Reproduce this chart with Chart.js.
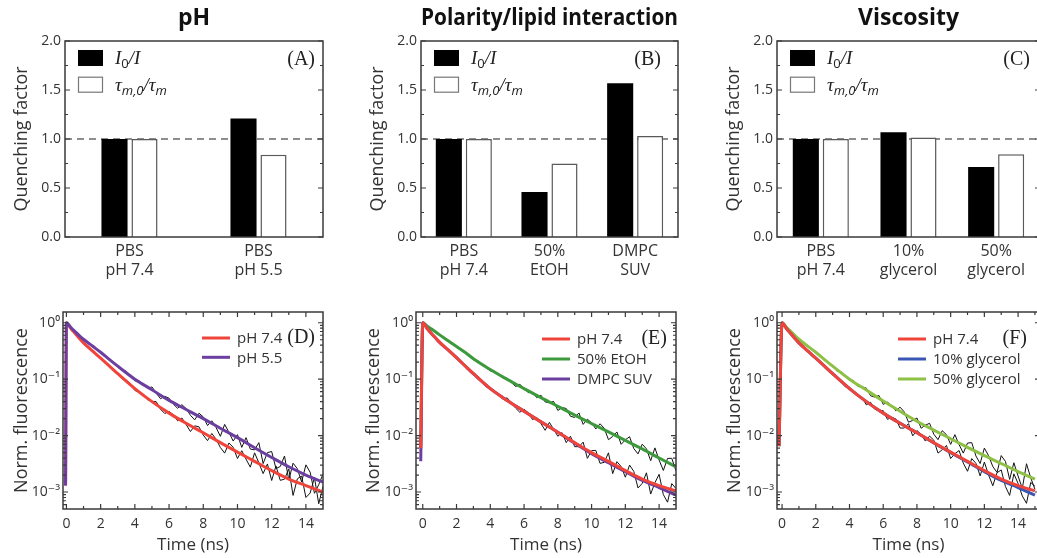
<!DOCTYPE html>
<html>
<head>
<meta charset="utf-8">
<script src="https://cdn.jsdelivr.net/npm/chart.js@4.4.1/dist/chart.umd.min.js"></script>
<style>
  html, body { margin: 0; padding: 0; background: #fff; overflow: hidden; width: 1037px; height: 558px; }
  canvas { position: absolute; }
</style>
</head>
<body>
<canvas id="cA" width="330" height="290" style="left:0px;top:0px"></canvas>
<canvas id="cB" width="330" height="290" style="left:356px;top:0px"></canvas>
<canvas id="cC" width="334" height="290" style="left:712px;top:0px"></canvas>
<canvas id="cD" width="330" height="268" style="left:0px;top:290px"></canvas>
<canvas id="cE" width="330" height="268" style="left:352px;top:290px"></canvas>
<canvas id="cF" width="333" height="268" style="left:713px;top:290px"></canvas>
<script>
// ---- quenching factor bars (top row) ----
var barSeries = ['I0/I', 'τm,0/τm'];
var barTicks = [0, 0.5, 1.0, 1.5, 2.0];
var barTickLabels = ['0.0', '0.5', '1.0', '1.5', '2.0'];

var phCats = [['PBS', 'pH 7.4'], ['PBS', 'pH 5.5']];
var phIntensity = [1.0, 1.21];
var phLifetime = [1.0, 0.84];

var polCats = [['PBS', 'pH 7.4'], ['50%', 'EtOH'], ['DMPC', 'SUV']];
var polIntensity = [1.0, 0.46, 1.57];
var polLifetime = [1.0, 0.75, 1.03];

var viscCats = [['PBS', 'pH 7.4'], ['10%', 'glycerol'], ['50%', 'glycerol']];
var viscIntensity = [1.0, 1.07, 0.715];
var viscLifetime = [1.0, 1.015, 0.845];

// ---- fluorescence decays (bottom row) ----
var decayTimeTicks = [0, 2, 4, 6, 8, 10, 12, 14];
var decayYTicks = [0.001, 0.01, 0.1, 1];
var decayYLabels = ['10⁻³', '10⁻²', '10⁻¹', '10⁰'];

// fitted curves (first point = rise of the pulse)
var fitTimeD = [-0.05, 0, 0.25, 0.5, 0.75, 1, 1.5, 2, 2.5, 3, 4, 5, 6, 7, 8, 9, 10, 11, 12, 13, 14, 15];
var fitD_ph74 = [0.0013, 1.0, 0.80, 0.65, 0.53, 0.44, 0.32, 0.235, 0.172, 0.125, 0.068, 0.040, 0.025, 0.0165, 0.0112, 0.0075, 0.0051, 0.0035, 0.0024, 0.0017, 0.0013, 0.0010];
var fitD_ph55 = [0.0013, 1.0, 0.83, 0.70, 0.59, 0.51, 0.39, 0.30, 0.225, 0.17, 0.10, 0.065, 0.042, 0.029, 0.020, 0.0135, 0.0092, 0.0061, 0.0041, 0.0028, 0.0020, 0.0015];

var fitTimeE = [-0.12, 0, 0.25, 0.5, 0.75, 1, 1.5, 2, 2.5, 3, 4, 5, 6, 7, 8, 9, 10, 11, 12, 13, 14, 15];
var fitE_ph74 = [0.006, 1.0, 0.80, 0.65, 0.54, 0.45, 0.33, 0.24, 0.173, 0.125, 0.068, 0.042, 0.027, 0.0175, 0.0115, 0.0075, 0.0050, 0.0035, 0.0024, 0.0017, 0.0013, 0.00105];
var fitE_etoh = [0.006, 1.0, 0.88, 0.78, 0.69, 0.61, 0.48, 0.38, 0.30, 0.23, 0.148, 0.099, 0.068, 0.047, 0.033, 0.023, 0.0163, 0.0116, 0.0082, 0.0058, 0.0040, 0.0028];
var fitE_dmpc = [0.0035, 1.0, 0.80, 0.65, 0.54, 0.45, 0.33, 0.24, 0.173, 0.125, 0.068, 0.042, 0.027, 0.0175, 0.0115, 0.0073, 0.0048, 0.0033, 0.0023, 0.0016, 0.0012, 0.00088];

var fitTimeF = [-0.18, 0, 0.25, 0.5, 0.75, 1, 1.5, 2, 2.5, 3, 4, 5, 6, 7, 8, 9, 10, 11, 12, 13, 14, 15];
var fitF_ph74 = [0.0065, 1.0, 0.80, 0.65, 0.53, 0.44, 0.32, 0.235, 0.172, 0.125, 0.068, 0.040, 0.025, 0.0165, 0.0112, 0.0075, 0.0051, 0.0035, 0.0024, 0.0017, 0.0013, 0.00105];
var fitF_gly10 = [0.0065, 1.0, 0.80, 0.65, 0.53, 0.44, 0.32, 0.235, 0.172, 0.125, 0.068, 0.040, 0.025, 0.0165, 0.0112, 0.0074, 0.0050, 0.0034, 0.0023, 0.0016, 0.0012, 0.00088];
var fitF_gly50 = [0.0065, 1.0, 0.84, 0.71, 0.60, 0.51, 0.39, 0.30, 0.225, 0.17, 0.10, 0.064, 0.041, 0.027, 0.018, 0.0125, 0.0088, 0.0062, 0.0044, 0.0032, 0.0023, 0.0017];

var dataTime = [3, 3.25, 3.5, 3.75, 4, 4.25, 4.5, 4.75, 5, 5.25, 5.5, 5.75, 6, 6.25, 6.5, 6.75, 7, 7.25, 7.5, 7.75, 8, 8.25, 8.5, 8.75, 9, 9.25, 9.5, 9.75, 10, 10.25, 10.5, 10.75, 11, 11.25, 11.5, 11.75, 12, 12.25, 12.5, 12.75, 13, 13.25, 13.5, 13.75, 14, 14.25, 14.5, 14.75, 15];
var dataD_ph74 = [0.1265, 0.1023, 0.0969, 0.0808, 0.0631, 0.0583, 0.0543, 0.0430, 0.0405, 0.0399, 0.0293, 0.0246, 0.0268, 0.0233, 0.0183, 0.0205, 0.0157, 0.0118, 0.0149, 0.0143, 0.0102, 0.00814, 0.0109, 0.00862, 0.00616, 0.00489, 0.0074, 0.0062, 0.00392, 0.0054, 0.00382, 0.00276, 0.00495, 0.00329, 0.00212, 0.00314, 0.0016, 0.0029, 0.00161, 0.00169, 0.00257, 0.00087, 0.00171, 0.00192, 0.0008, 0.00096, 0.00181, 0.00062, 0.00126];
var dataD_ph55 = [0.160, 0.150, 0.138, 0.110, 0.0935, 0.0929, 0.0820, 0.0687, 0.0729, 0.0566, 0.0450, 0.0497, 0.046, 0.0361, 0.0305, 0.0353, 0.0301, 0.0229, 0.019, 0.0249, 0.0215, 0.0150, 0.0183, 0.0139, 0.0097, 0.0158, 0.0114, 0.0080, 0.0104, 0.00618, 0.0092, 0.00577, 0.00558, 0.0075, 0.00319, 0.00499, 0.00522, 0.0026, 0.00283, 0.00435, 0.00163, 0.00324, 0.00259, 0.00151, 0.00303, 0.00224, 0.00095, 0.00135, 0.00207];
var dataE_ph74 = [0.1186, 0.1133, 0.0906, 0.0733, 0.070, 0.0631, 0.052, 0.0443, 0.0466, 0.0385, 0.0307, 0.0259, 0.0293, 0.0253, 0.0192, 0.0209, 0.0163, 0.0124, 0.0171, 0.0130, 0.00973, 0.0113, 0.0075, 0.00974, 0.00636, 0.00636, 0.00766, 0.00395, 0.0054, 0.00547, 0.00322, 0.00336, 0.00495, 0.00212, 0.00345, 0.00283, 0.00183, 0.003, 0.00232, 0.00118, 0.00142, 0.00219, 0.00092, 0.00146, 0.00206, 0.0009, 0.00066, 0.00141, 0.00115];
var dataE_etoh = [0.219, 0.214, 0.186, 0.160, 0.140, 0.138, 0.123, 0.1045, 0.104, 0.0872, 0.0739, 0.0809, 0.0685, 0.0576, 0.0589, 0.047, 0.0521, 0.0395, 0.0381, 0.0404, 0.0279, 0.0314, 0.0302, 0.022, 0.021, 0.0252, 0.0158, 0.0195, 0.0169, 0.0131, 0.0162, 0.0135, 0.00847, 0.00965, 0.0116, 0.007, 0.0084, 0.00956, 0.00589, 0.00474, 0.00704, 0.00582, 0.00359, 0.00606, 0.00368, 0.00241, 0.00394, 0.00396, 0.00237];
var dataF_ph74 = [0.1178, 0.1107, 0.090, 0.0733, 0.072, 0.060, 0.0495, 0.047, 0.035, 0.039, 0.0293, 0.0273, 0.0277, 0.0194, 0.021, 0.0198, 0.0136, 0.0136, 0.0163, 0.0099, 0.0123, 0.0105, 0.008, 0.0098, 0.0083, 0.00489, 0.00562, 0.00669, 0.00392, 0.00476, 0.00544, 0.00326, 0.00233, 0.00391, 0.00322, 0.00193, 0.00339, 0.00201, 0.00129, 0.0022, 0.00246, 0.00125, 0.00087, 0.0021, 0.00142, 0.00085, 0.00063, 0.00148, 0.00126];
var dataF_gly50 = [0.175, 0.139, 0.136, 0.11, 0.0985, 0.0941, 0.0742, 0.0727, 0.0694, 0.0507, 0.0482, 0.0514, 0.0358, 0.0391, 0.0341, 0.0274, 0.0319, 0.0263, 0.0173, 0.0185, 0.0205, 0.0135, 0.0153, 0.0165, 0.0106, 0.00848, 0.0122, 0.0104, 0.00699, 0.0104, 0.00693, 0.00489, 0.00737, 0.00751, 0.00435, 0.0032, 0.00601, 0.0044, 0.00283, 0.00223, 0.00442, 0.00349, 0.00167, 0.0033, 0.00192, 0.00116, 0.00317, 0.00178, 0.00112];

var sans = '"Open Sans", "DejaVu Sans", sans-serif';
var serif = '"Liberation Serif", "DejaVu Serif", serif';
var textColor = '#333';
var frameColor = '#3a3a3a';

// legend text pieces: [text, style]
var barLegendText = [
  [['I', 'i'], ['0', 'sub'], ['/', 'i'], ['I', 'i']],
  [['τ', 'i'], ['m,0', 'subi'], ['/', 'i'], ['τ', 'i'], ['m', 'subi']]
];
var richFonts = {
  i: { font: 'italic 19px ' + serif, dy: 0 },
  sub: { font: '13px ' + sans, dy: 4 },
  subi: { font: 'italic 13px ' + sans, dy: 4 }
};

function drawRich(ctx, parts, x, y) {
  parts.forEach(function(p) {
    var f = richFonts[p[1]];
    ctx.font = f.font;
    ctx.fillText(p[0], x, y + f.dy);
    x += ctx.measureText(p[0]).width;
  });
}

function logMinor(min, max) {
  var out = [];
  for (var e = -4; e <= 0; e++) {
    for (var k = 2; k <= 9; k++) {
      var v = k * Math.pow(10, e);
      if (v > min && v < max) out.push(v);
    }
  }
  return out;
}

// frame, inner ticks, reference line, panel letter and legends
var panelPlugin = {
  id: 'panel',
  beforeDatasetsDraw: function(chart, args, o) {
    if (o.refLine == null) return;
    var a = chart.chartArea, ctx = chart.ctx;
    var y = chart.scales.y.getPixelForValue(o.refLine);
    ctx.save();
    ctx.setLineDash([7, 5]);
    ctx.strokeStyle = '#6a6a6a';
    ctx.lineWidth = 1.5;
    ctx.beginPath();
    ctx.moveTo(a.left, y);
    ctx.lineTo(a.right, y);
    ctx.stroke();
    ctx.restore();
  },
  afterDatasetsDraw: function(chart, args, o) {
    var a = chart.chartArea, ctx = chart.ctx;
    var sx = chart.scales.x, sy = chart.scales.y;
    ctx.save();
    ctx.strokeStyle = frameColor;
    ctx.lineWidth = 1.5;
    ctx.strokeRect(a.left, a.top, a.right - a.left, a.bottom - a.top);
    ctx.lineWidth = 1.2;
    ctx.beginPath();
    function yTick(v, len) {
      var p = sy.getPixelForValue(v);
      ctx.moveTo(a.left, p); ctx.lineTo(a.left + len, p);
      ctx.moveTo(a.right, p); ctx.lineTo(a.right - len, p);
    }
    function xTick(v, len) {
      var p = sx.getPixelForValue(v);
      ctx.moveTo(p, a.bottom); ctx.lineTo(p, a.bottom - len);
      ctx.moveTo(p, a.top); ctx.lineTo(p, a.top + len);
    }
    (o.yMajor || []).forEach(function(v) { yTick(v, 5); });
    (o.yMinor || []).forEach(function(v) { yTick(v, 3); });
    (o.xMajor || []).forEach(function(v) { xTick(v, 5); });
    (o.xMinor || []).forEach(function(v) { xTick(v, 3); });
    ctx.stroke();

    // panel letter
    ctx.fillStyle = '#222';
    ctx.font = '20px ' + serif;
    ctx.textAlign = 'right';
    ctx.textBaseline = 'middle';
    ctx.fillText(o.letter, a.right - o.letterDx, a.top + o.letterDy);

    ctx.textAlign = 'left';
    if (o.boxLegend) {
      ctx.textBaseline = 'alphabetic';
      for (var i = 0; i < 2; i++) {
        var by = a.top + 9 + i * 26.7;
        if (i === 0) {
          ctx.fillStyle = '#000';
          ctx.fillRect(a.left + 13, by, 25, 16);
        } else {
          ctx.fillStyle = '#fff';
          ctx.fillRect(a.left + 13, by, 25, 16);
          ctx.strokeStyle = '#777';
          ctx.lineWidth = 1.2;
          ctx.strokeRect(a.left + 13.5, by + 0.5, 24, 15);
        }
        ctx.fillStyle = '#222';
        drawRich(ctx, barLegendText[i], a.left + 50, by + 14);
      }
    }
    if (o.lineLegend) {
      ctx.textBaseline = 'middle';
      ctx.font = '15px ' + sans;
      var row = 0;
      chart.data.datasets.forEach(function(ds) {
        if (!ds.showInLegend) return;
        var ly = a.top + o.legendDy + row * o.legendRow;
        var lx = a.right - o.legendDx;
        ctx.strokeStyle = ds.borderColor;
        ctx.lineWidth = 3;
        ctx.beginPath();
        ctx.moveTo(lx, ly);
        ctx.lineTo(lx + 28, ly);
        ctx.stroke();
        ctx.fillStyle = textColor;
        ctx.fillText(ds.label, lx + 35, ly + 1);
        row++;
      });
    }
    ctx.restore();
  }
};

function barChart(id, title, cats, intensity, lifetime, catPct, padRight, letter, letterDx) {
  return new Chart(document.getElementById(id), {
    type: 'bar',
    data: {
      labels: cats,
      datasets: [
        { label: barSeries[0], data: intensity, backgroundColor: '#000', borderWidth: 0,
          categoryPercentage: catPct, barPercentage: 0.87 },
        { label: barSeries[1], data: lifetime, backgroundColor: '#fff', borderColor: '#5a5a5a', borderWidth: 1.5,
          categoryPercentage: catPct, barPercentage: 0.87 }
      ]
    },
    options: {
      responsive: false,
      animation: false,
      layout: { padding: { left: 0, right: padRight, top: 0, bottom: 0 } },
      plugins: {
        legend: { display: false },
        tooltip: { enabled: false },
        title: { display: true, text: title, fullSize: false, color: '#111',
          font: { family: sans, size: 23, weight: 'bold' }, padding: { top: 4.2, bottom: 9.2 } },
        panel: { refLine: 1.0, yMajor: barTicks, yMinor: [0.25, 0.75, 1.25, 1.75],
          letter: letter, letterDx: letterDx, letterDy: 19, boxLegend: true }
      },
      scales: {
        x: {
          grid: { display: false, drawTicks: false },
          border: { display: false },
          ticks: { color: textColor, font: { family: sans, size: 16 }, padding: 5, maxRotation: 0 },
          afterFit: function(s) { s.height = 53; }
        },
        y: {
          min: 0, max: 2,
          grid: { display: false, drawTicks: false },
          border: { display: false },
          afterBuildTicks: function(s) { s.ticks = barTicks.map(function(v) { return { value: v }; }); },
          ticks: { color: textColor, font: { family: sans, size: 14 }, padding: 4,
            callback: function(v) { return barTickLabels[barTicks.indexOf(v)]; } },
          title: { display: true, text: 'Quenching factor', color: textColor,
            font: { family: sans, size: 18 }, padding: { top: 11, bottom: 0 } },
          afterFit: function(s) { s.width = 65; }
        }
      }
    },
    plugins: [panelPlugin]
  });
}

function decayChart(id, time, fits, dataSets, xMin, xMax, yAxisW, padRight, leg) {
  var datasets = [];
  fits.forEach(function(f) {
    datasets.push({
      label: f.label,
      data: time.map(function(t, i) { return { x: t, y: f.values[i] }; }),
      borderColor: f.color, borderWidth: 3, pointRadius: 0,
      cubicInterpolationMode: 'monotone', order: f.order, showInLegend: true
    });
  });
  dataSets.forEach(function(d) {
    datasets.push({
      label: 'data',
      data: dataTime.map(function(t, i) { return { x: t, y: d[i] }; }),
      borderColor: '#111', borderWidth: 1, pointRadius: 0, order: 10
    });
  });
  var xMinor = [1, 3, 5, 7, 9, 11, 13, 15].filter(function(v) { return v < xMax; });
  return new Chart(document.getElementById(id), {
    type: 'line',
    data: { datasets: datasets },
    options: {
      responsive: false,
      animation: false,
      layout: { padding: { left: 0, right: padRight, top: 22, bottom: 0 } },
      plugins: {
        legend: { display: false },
        tooltip: { enabled: false },
        panel: { yMajor: decayYTicks, yMinor: logMinor(5e-4, 1.55), xMajor: decayTimeTicks, xMinor: xMinor,
          letter: leg.letter, letterDx: leg.letterDx, letterDy: leg.dy,
          lineLegend: true, legendDx: leg.dx, legendDy: leg.dy, legendRow: leg.row }
      },
      scales: {
        x: {
          type: 'linear', min: xMin, max: xMax,
          grid: { display: false, drawTicks: false },
          border: { display: false },
          afterBuildTicks: function(s) { s.ticks = decayTimeTicks.map(function(v) { return { value: v }; }); },
          ticks: { color: textColor, font: { family: sans, size: 14 }, padding: 7, maxRotation: 0, autoSkip: false },
          title: { display: true, text: 'Time (ns)', color: textColor,
            font: { family: sans, size: 17 }, padding: { top: 0, bottom: 3 } },
          afterFit: function(s) { s.height = 49; }
        },
        y: {
          type: 'logarithmic', min: 5e-4, max: 1.55,
          grid: { display: false, drawTicks: false },
          border: { display: false },
          afterBuildTicks: function(s) { s.ticks = decayYTicks.map(function(v) { return { value: v }; }); },
          ticks: { color: textColor, font: { family: sans, size: 14 }, padding: 3, autoSkip: false,
            callback: function(v) { return decayYLabels[decayYTicks.indexOf(v)]; } },
          title: { display: true, text: 'Norm. fluorescence', color: textColor,
            font: { family: sans, size: 18 }, padding: { top: 11, bottom: 0 } },
          afterFit: function(s) { s.width = yAxisW; }
        }
      }
    },
    plugins: [panelPlugin]
  });
}

barChart('cA', 'pH', phCats, phIntensity, phLifetime, 0.465, 7, '(A)', 8);
barChart('cB', 'Polarity/lipid interaction', polCats, polIntensity, polLifetime, 0.70, 8, '(B)', 17);
barChart('cC', 'Viscosity', viscCats, viscIntensity, viscLifetime, 0.684, 6, '(C)', 10);

decayChart('cD', fitTimeD, [
  { label: 'pH 7.4', values: fitD_ph74, color: '#f0443a', order: 1 },
  { label: 'pH 5.5', values: fitD_ph55, color: '#6b3fa0', order: 0 }
], [dataD_ph74, dataD_ph55], -0.2, 15, 63, 7,
  { letter: '(D)', letterDx: 8, dx: 121, dy: 26, row: 19.3 });

decayChart('cE', fitTimeE, [
  { label: 'pH 7.4', values: fitE_ph74, color: '#f0443a', order: 0 },
  { label: '50% EtOH', values: fitE_etoh, color: '#3c9a3c', order: 2 },
  { label: 'DMPC SUV', values: fitE_dmpc, color: '#6b3fa0', order: 1 }
], [dataE_ph74, dataE_etoh], -0.4, 15, 64, 6,
  { letter: '(E)', letterDx: 9, dx: 134, dy: 27, row: 20 });

decayChart('cF', fitTimeF, [
  { label: 'pH 7.4', values: fitF_ph74, color: '#f0443a', order: 0 },
  { label: '10% glycerol', values: fitF_gly10, color: '#3a56b0', order: 1 },
  { label: '50% glycerol', values: fitF_gly50, color: '#8dc044', order: 2 }
], [dataF_ph74, dataF_gly50], -0.3, 15.3, 64, 6,
  { letter: '(F)', letterDx: 13, dx: 142, dy: 27, row: 20 });
</script>
</body>
</html>
